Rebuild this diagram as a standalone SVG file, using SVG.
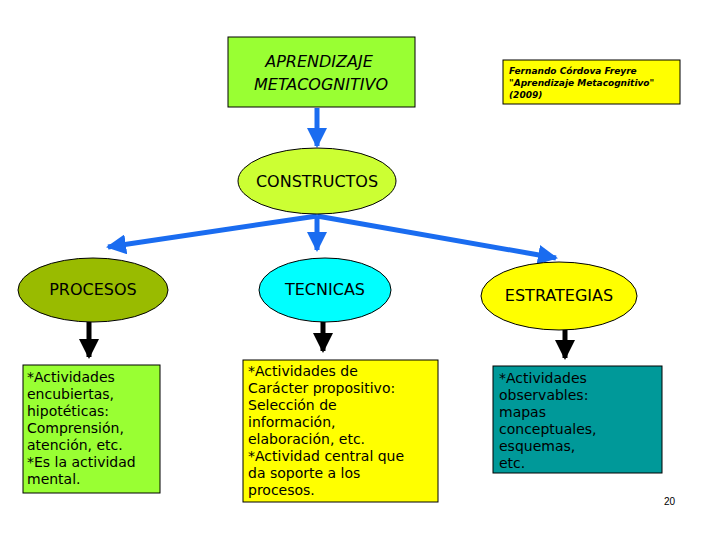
<svg xmlns="http://www.w3.org/2000/svg" width="720" height="540" viewBox="0 0 720 540">
<style>
.n{stroke:#000;stroke-width:1}
.t{font-family:"DejaVu Sans",sans-serif;fill:#000}
.b{fill:none;stroke:#1a6cf0;stroke-width:5}
.k{fill:none;stroke:#000;stroke-width:5}
.body{font-family:"DejaVu Sans",sans-serif;font-size:14px}
</style>
<defs>
<marker id="ab" viewBox="0 0 10 10" refX="9" refY="5" markerWidth="4" markerHeight="4" orient="auto" markerUnits="strokeWidth"><path d="M0,0L10,5L0,10z" fill="#1a6cf0"/></marker>
<marker id="ak" viewBox="0 0 10 10" refX="9" refY="5" markerWidth="4" markerHeight="4" orient="auto" markerUnits="strokeWidth"><path d="M0,0L10,5L0,10z" fill="#000"/></marker>
</defs>
<rect width="720" height="540" fill="#fff"/>
<g id="connectors">
<path class="b" d="M317,108V146" marker-end="url(#ab)"/>
<path class="b" d="M317,216L108,247" marker-end="url(#ab)"/>
<path class="b" d="M317,216V250" marker-end="url(#ab)"/>
<path class="b" d="M317,216L556,258" marker-end="url(#ab)"/>
<path class="k" d="M89,322V357" marker-end="url(#ak)"/>
<path class="k" d="M323,322V351" marker-end="url(#ak)"/>
<path class="k" d="M565,330V358" marker-end="url(#ak)"/>
</g>
<g id="aprendizaje">
<rect class="n" x="228" y="37" width="187" height="70" fill="#99ff33"/>
<text class="t" font-size="16" font-style="italic" text-anchor="middle"><tspan x="319" y="67">APRENDIZAJE</tspan><tspan x="321" y="90">METACOGNITIVO</tspan></text>
</g>
<g id="referencia">
<rect class="n" x="503" y="60" width="177" height="44" fill="#ffff00"/>
<text class="t" font-size="9" font-style="italic" font-weight="bold"><tspan x="509" y="74">Fernando Córdova Freyre</tspan><tspan x="509" y="86">"Aprendizaje Metacognitivo"</tspan><tspan x="509" y="98">(2009)</tspan></text>
</g>
<g id="constructos">
<ellipse class="n" cx="317" cy="181" rx="79" ry="33" fill="#ccff33"/>
<text class="t" x="317" y="187" font-size="16" text-anchor="middle">CONSTRUCTOS</text>
</g>
<g id="procesos">
<ellipse class="n" cx="93" cy="290" rx="75" ry="32" fill="#99bb00"/>
<text class="t" x="93" y="295" font-size="16" text-anchor="middle">PROCESOS</text>
</g>
<g id="tecnicas">
<ellipse class="n" cx="325" cy="290" rx="66" ry="32" fill="#00ffff"/>
<text class="t" x="325" y="295" font-size="16" text-anchor="middle">TECNICAS</text>
</g>
<g id="estrategias">
<ellipse class="n" cx="559" cy="296" rx="78" ry="34" fill="#ffff00"/>
<text class="t" x="559" y="301" font-size="16" text-anchor="middle">ESTRATEGIAS</text>
</g>
<g id="procesos-desc">
<rect class="n" x="23" y="365" width="137" height="128" fill="#99ff33"/>
<text class="body"><tspan x="27" y="382">*Actividades</tspan><tspan x="27" y="399">encubiertas,</tspan><tspan x="27" y="416">hipotéticas:</tspan><tspan x="27" y="433">Comprensión,</tspan><tspan x="27" y="450">atención, etc.</tspan><tspan x="27" y="467">*Es la actividad</tspan><tspan x="27" y="484">mental.</tspan></text>
</g>
<g id="tecnicas-desc">
<rect class="n" x="243" y="360" width="195" height="142" fill="#ffff00"/>
<text class="body"><tspan x="248" y="376">*Actividades de</tspan><tspan x="248" y="393">Carácter propositivo:</tspan><tspan x="248" y="410">Selección de</tspan><tspan x="248" y="427">información,</tspan><tspan x="248" y="444">elaboración, etc.</tspan><tspan x="248" y="461">*Actividad central que</tspan><tspan x="248" y="478">da soporte a los</tspan><tspan x="248" y="495">procesos.</tspan></text>
</g>
<g id="estrategias-desc">
<rect class="n" x="493" y="366" width="169" height="107" fill="#009999"/>
<text class="body"><tspan x="499" y="383">*Actividades</tspan><tspan x="499" y="400">observables:</tspan><tspan x="499" y="417">mapas</tspan><tspan x="499" y="434">conceptuales,</tspan><tspan x="499" y="451">esquemas,</tspan><tspan x="499" y="468">etc.</tspan></text>
</g>
<text x="664" y="505" font-family="Liberation Sans,sans-serif" font-size="10">20</text>
</svg>
